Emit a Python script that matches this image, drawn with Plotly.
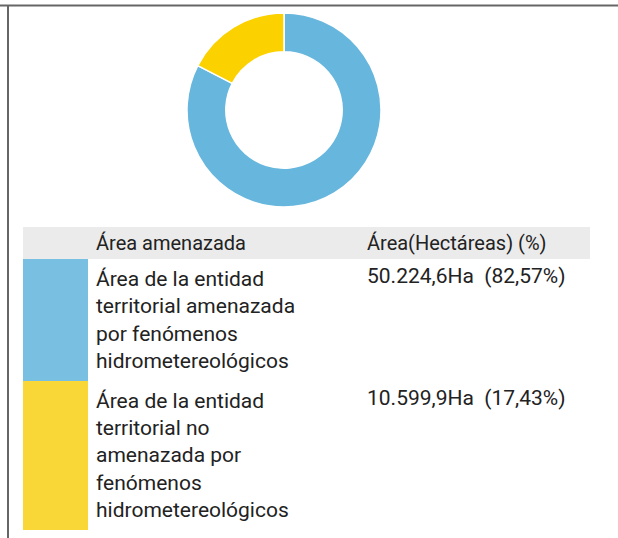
import plotly.graph_objects as go

# Area data (hectares) and shares
categorias = [
    "Área de la entidad territorial amenazada por fenómenos hidrometereológicos",
    "Área de la entidad territorial no amenazada por fenómenos hidrometereológicos",
]
etiquetas_tabla = [
    "Área de la entidad<br>territorial amenazada<br>por fenómenos<br>hidrometereológicos",
    "Área de la entidad<br>territorial no<br>amenazada por<br>fenómenos<br>hidrometereológicos",
]
hectareas = [50224.6, 10599.9]
porcentajes = [82.57, 17.43]
encabezados = ["", "Área amenazada", "Área(Hectáreas) (%)"]

colores_anillo = ["#66B6DD", "#FBD100"]
colores_muestra = ["#79BFE1", "#F8D737"]


def formato_es(valor, decimales):
    """Spanish number format: '.' for thousands, ',' for decimals."""
    texto = f"{valor:,.{decimales}f}"
    return texto.replace(",", "X").replace(".", ",").replace("X", ".")


valores_tabla = [
    f"{formato_es(h, 1)}Ha  ({formato_es(p, 2)}%)" for h, p in zip(hectareas, porcentajes)
]

W, H = 618, 538
fig = go.Figure()

fig.add_trace(go.Pie(
    labels=categorias,
    values=hectareas,
    hole=0.6,
    sort=False,
    direction="clockwise",
    rotation=0,
    marker=dict(colors=colores_anillo, line=dict(color="white", width=1.5)),
    textinfo="none",
    hoverinfo="skip",
    showlegend=False,
    domain=dict(x=[187 / W, 381 / W], y=[1 - 207 / H, 1 - 13 / H]),
))

fig.add_trace(go.Table(
    columnwidth=[65, 271, 231],
    domain=dict(x=[23 / W, 590 / W], y=[0.0, 1 - 227 / H]),
    header=dict(
        values=encabezados,
        fill_color="#EBEBEB",
        line=dict(width=0, color="#EBEBEB"),
        align="left",
        height=32,
        font=dict(family="Roboto", size=20, color="#222222"),
    ),
    cells=dict(
        values=[["", ""], etiquetas_tabla, valores_tabla],
        fill_color=[colores_muestra, ["white", "white"], ["white", "white"]],
        line=dict(width=0, color="white"),
        align="left",
        font=dict(family="Roboto", size=21, color="#222222"),
    ),
))

# frame lines (top and left edges)
fig.add_shape(type="line", xref="paper", yref="paper",
              x0=0, x1=1, y0=1 - 5.5 / H, y1=1 - 5.5 / H,
              line=dict(color="#666666", width=2))
fig.add_shape(type="line", xref="paper", yref="paper",
              x0=8 / W, x1=8 / W, y0=0, y1=1 - 5.5 / H,
              line=dict(color="#666666", width=2))

fig.update_layout(
    width=W, height=H,
    margin=dict(l=0, r=0, t=0, b=0),
    paper_bgcolor="white",
    plot_bgcolor="white",
    font=dict(family="Roboto"),
)

fig.write_html("out.html", config={"displayModeBar": False})
